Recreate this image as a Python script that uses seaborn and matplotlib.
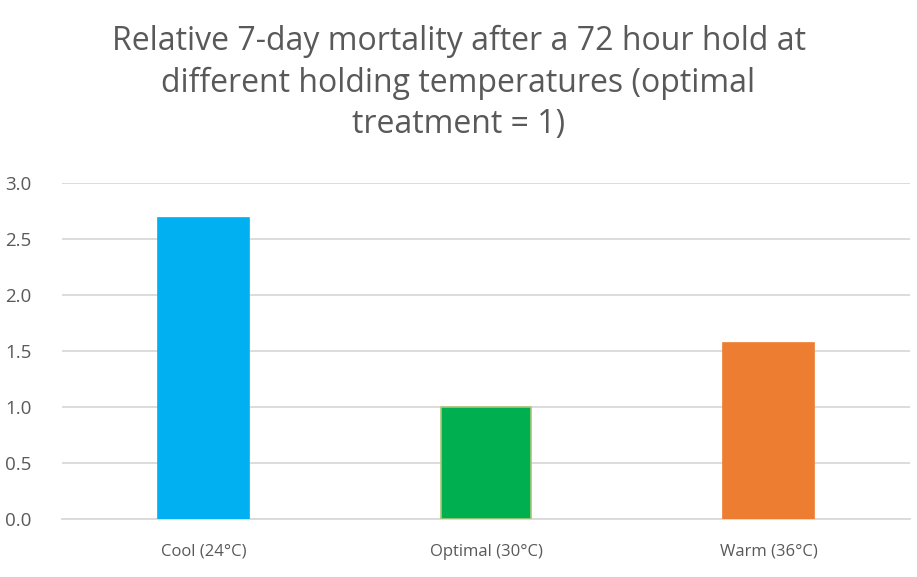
import matplotlib
matplotlib.use("Agg")
import matplotlib.pyplot as plt
import seaborn as sns
import pandas as pd

categories = ["Cool (24°C)", "Optimal (30°C)", "Warm (36°C)"]
values = [2.69, 1.0, 1.57]
colors = ["#00B0F0", "#00B050", "#ED7D31"]
edge_colors = ["#00B0F0", "#A9C77A", "#ED7D31"]
yticks = [0.0, 0.5, 1.0, 1.5, 2.0, 2.5, 3.0]

sns.set_theme(style="white")
plt.rcParams['font.family'] = ['Open Sans', 'DejaVu Sans']

df = pd.DataFrame({"cat": categories, "val": values})

fig = plt.figure(figsize=(9.17, 5.77), dpi=100)
ax = fig.add_axes([62/917, 1-519/577, (910-62)/917, (519-183)/577])

sns.barplot(data=df, x="cat", y="val", hue="cat", palette=colors, legend=False,
            width=0.32, saturation=1, ax=ax, zorder=3)
for patch, ec in zip(ax.patches, edge_colors):
    patch.set_edgecolor(ec)
    patch.set_linewidth(1.2)

ax.set_ylim(0, 3.0)
ax.set_yticks(yticks)
ax.set_yticklabels([f"{t:.1f}" for t in yticks])
ax.yaxis.grid(True, color="#D9D9D9", linewidth=1.3, zorder=0)
ax.set_xlabel("")
ax.set_ylabel("")
for s in ["top", "right", "left"]:
    ax.spines[s].set_visible(False)
ax.spines["bottom"].set_color("#D9D9D9")
ax.spines["bottom"].set_linewidth(1.3)
ax.tick_params(axis="both", length=0, colors="#595959")
ax.tick_params(axis="y", labelsize=13.5, pad=22)
ax.tick_params(axis="x", labelsize=12, pad=18)
ax.set_xlim(-0.5, 2.5)

fig.text(0.5, 1-25/577, "Relative 7-day mortality after a 72 hour hold at\ndifferent holding temperatures (optimal\ntreatment = 1)",
         ha="center", va="top", fontsize=23, color="#595959", linespacing=1.33)

fig.savefig("out.png", dpi=100, facecolor="white")
